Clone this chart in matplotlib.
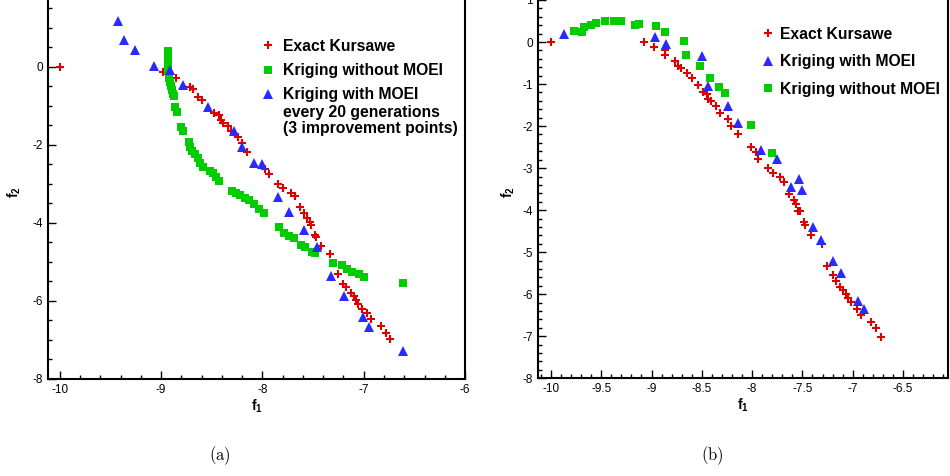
import matplotlib
matplotlib.use("Agg")
import matplotlib.pyplot as plt
from matplotlib.ticker import MultipleLocator, FormatStrFormatter
from matplotlib.lines import Line2D

plt.rcParams['font.family'] = ['Liberation Sans', 'DejaVu Sans']
plt.rcParams['mathtext.fontset'] = 'custom'
plt.rcParams['mathtext.rm'] = 'Liberation Sans'
plt.rcParams['mathtext.bf'] = 'Liberation Sans:bold'
plt.rcParams['axes.unicode_minus'] = False

RED = '#dd0000'
GREEN = '#00cc00'
BLUE = '#2a2aff'

# ---- panel (a) data ----
a_exact_f1 = [-10.0, -8.98, -8.93, -8.85, -8.72, -8.69, -8.64, -8.60, -8.48, -8.43, -8.41,
              -8.39, -8.34, -8.31, -8.24, -8.20, -8.15, -7.97, -7.94, -7.85, -7.80, -7.72,
              -7.68, -7.63, -7.59, -7.56, -7.53, -7.52, -7.48, -7.47, -7.42, -7.33, -7.25,
              -7.20, -7.18, -7.13, -7.10, -7.08, -7.06, -7.02, -6.97, -6.93, -6.83, -6.78, -6.74]
a_exact_f2 = [0.0, -0.13, -0.19, -0.30, -0.53, -0.58, -0.77, -0.85, -1.18, -1.24, -1.37,
              -1.45, -1.52, -1.64, -1.81, -1.96, -2.18, -2.63, -2.75, -3.02, -3.12, -3.23,
              -3.31, -3.61, -3.76, -3.87, -3.99, -4.07, -4.32, -4.36, -4.60, -4.80, -5.32,
              -5.57, -5.66, -5.79, -5.88, -5.98, -6.09, -6.20, -6.32, -6.48, -6.65, -6.82, -6.99]

a_nomoei_f1 = [-8.935, -8.935, -8.935, -8.935, -8.93, -8.93, -8.925, -8.92, -8.91, -8.90,
               -8.89, -8.88, -8.87, -8.86, -8.84, -8.80, -8.78, -8.73, -8.72, -8.70, -8.67,
               -8.64, -8.62, -8.59, -8.52, -8.49, -8.46, -8.43, -8.30, -8.26, -8.22, -8.17,
               -8.13, -8.08, -8.03, -7.98, -7.84, -7.79, -7.74, -7.69, -7.62, -7.58, -7.51,
               -7.48, -7.30, -7.21, -7.17, -7.12, -7.05, -7.00, -6.61]
a_nomoei_f2 = [0.40, 0.30, 0.20, 0.10, 0.0, -0.10, -0.20, -0.30, -0.40, -0.50,
               -0.60, -0.70, -0.75, -1.04, -1.16, -1.54, -1.64, -1.93, -2.05, -2.15, -2.24,
               -2.35, -2.48, -2.56, -2.67, -2.73, -2.82, -2.92, -3.18, -3.25, -3.29, -3.37,
               -3.42, -3.52, -3.66, -3.76, -4.12, -4.27, -4.34, -4.40, -4.57, -4.63, -4.74,
               -4.78, -5.04, -5.08, -5.19, -5.26, -5.32, -5.38, -5.55]

a_moei_f1 = [-9.427, -9.368, -9.256, -9.073, -8.909, -8.787, -8.541, -8.279, -8.204, -8.086,
             -8.007, -7.843, -7.738, -7.594, -7.466, -7.325, -7.191, -7.007, -6.944, -6.613]
a_moei_f2 = [1.18, 0.68, 0.43, 0.03, -0.08, -0.46, -1.04, -1.64, -2.07, -2.48,
             -2.49, -3.33, -3.73, -4.19, -4.63, -5.37, -5.88, -6.41, -6.68, -7.28]

# ---- panel (b) data ----
b_exact_f1 = [-10.0, -9.07, -8.98, -8.87, -8.87, -8.77, -8.74, -8.71, -8.65, -8.60, -8.54,
              -8.49, -8.45, -8.44, -8.41, -8.36, -8.32, -8.24, -8.21, -8.14, -8.01, -7.96,
              -7.94, -7.84, -7.79, -7.72, -7.68, -7.63, -7.58, -7.56, -7.54, -7.52, -7.48,
              -7.47, -7.41, -7.31, -7.26, -7.20, -7.17, -7.13, -7.10, -7.07, -7.05, -7.02,
              -6.96, -6.92, -6.82, -6.77, -6.72]
b_exact_f2 = [0.0, -0.01, -0.13, -0.18, -0.30, -0.46, -0.56, -0.62, -0.74, -0.86, -1.03,
              -1.19, -1.24, -1.35, -1.41, -1.52, -1.68, -1.83, -1.99, -2.19, -2.49, -2.62,
              -2.78, -3.00, -3.12, -3.20, -3.32, -3.62, -3.75, -3.85, -4.01, -4.03, -4.27,
              -4.35, -4.60, -4.81, -5.32, -5.54, -5.68, -5.82, -5.90, -6.00, -6.08, -6.19,
              -6.35, -6.49, -6.67, -6.81, -7.01]

b_moei_f1 = [-9.87, -8.97, -8.86, -8.50, -8.44, -8.24, -8.14, -7.91, -7.75, -7.61,
             -7.53, -7.50, -7.39, -7.32, -7.20, -7.12, -6.95, -6.89]
b_moei_f2 = [0.19, 0.11, -0.04, -0.33, -1.04, -1.53, -1.93, -2.58, -2.78, -3.44,
             -3.25, -3.53, -4.39, -4.72, -5.21, -5.50, -6.15, -6.36]

b_nomoei_f1 = [-9.77, -9.69, -9.67, -9.60, -9.55, -9.46, -9.37, -9.30, -9.16, -9.12,
               -8.96, -8.87, -8.68, -8.66, -8.52, -8.42, -8.33, -8.27, -8.01, -7.80]
b_nomoei_f2 = [0.27, 0.24, 0.36, 0.40, 0.45, 0.49, 0.51, 0.51, 0.41, 0.44,
               0.37, 0.24, 0.03, -0.30, -0.56, -0.86, -1.07, -1.21, -1.98, -2.64]

exact_style = dict(marker='+', linestyle='none', color=RED, markersize=5.5, markeredgewidth=1.5)
nomoei_style = dict(marker='s', linestyle='none', color=GREEN, markersize=6.2, markeredgewidth=0)
moei_style = dict(marker='^', linestyle='none', color=BLUE, markersize=7.2, markeredgewidth=0)

fig = plt.figure(figsize=(9.5, 4.76), dpi=100)
ax1 = fig.add_axes([0.051, 0.2044, 0.4385, 0.7956])
ax2 = fig.add_axes([0.5666, 0.2053, 0.4316, 0.7947])


def style_axes(ax, xmaj, xmin, ymaj, ymin):
    ax.xaxis.set_major_locator(MultipleLocator(xmaj))
    ax.xaxis.set_minor_locator(MultipleLocator(xmin))
    ax.yaxis.set_major_locator(MultipleLocator(ymaj))
    ax.yaxis.set_minor_locator(MultipleLocator(ymin))
    ax.xaxis.set_major_formatter(FormatStrFormatter('%g'))
    ax.yaxis.set_major_formatter(FormatStrFormatter('%g'))
    ax.tick_params(which='both', direction='in', width=1.0, labelsize=8.5)
    ax.tick_params(which='major', length=5.5)
    ax.tick_params(which='minor', length=3)
    ax.tick_params(axis='y', pad=4)
    ax.tick_params(axis='x', pad=3.5)
    ax.spines['top'].set_visible(False)
    for s in ['left', 'bottom', 'right']:
        ax.spines[s].set_linewidth(1.5)


LEG_FONT = {'weight': 'bold', 'size': 11.3}

# panel (a)
ax1.plot(a_exact_f1, a_exact_f2, **exact_style)
ax1.plot(a_nomoei_f1, a_nomoei_f2, **nomoei_style)
ax1.plot(a_moei_f1, a_moei_f2, **moei_style)
ax1.set_xlim(-10.113, -6.0)
ax1.set_ylim(-8, 1.71)
style_axes(ax1, 1, 0.2, 2, 0.5)
ax1.set_xlabel(r'$\mathbf{f_1}$', fontsize=10)
ax1.xaxis.set_label_coords(0.5, -0.049)
ax1.set_ylabel(r'$\mathbf{f_2}$', fontsize=10)
ax1.yaxis.set_label_coords(-0.061, 0.493)

handles_a = [Line2D([], [], **exact_style), Line2D([], [], **nomoei_style), Line2D([], [], **moei_style)]
labels_a = ['Exact Kursawe', 'Kriging without MOEI', 'Kriging with MOEI']
ax1.legend(handles_a, labels_a, loc='upper left', bbox_to_anchor=(0.51, 0.898),
           frameon=False, borderpad=0, borderaxespad=0, handlelength=0.9,
           handletextpad=0.5, labelspacing=0.6, prop=LEG_FONT)
ax1.text(0.563, 0.7042, 'every 20 generations', transform=ax1.transAxes,
         ha='left', va='center', fontsize=11.3, fontweight='bold')
ax1.text(0.563, 0.660, '(3 improvement points)', transform=ax1.transAxes,
         ha='left', va='center', fontsize=11.3, fontweight='bold')

# panel (b)
ax2.plot(b_exact_f1, b_exact_f2, **exact_style)
ax2.plot(b_moei_f1, b_moei_f2, **moei_style)
ax2.plot(b_nomoei_f1, b_nomoei_f2, **nomoei_style)
ax2.set_xlim(-10.126, -6.05)
ax2.set_ylim(-8, 1.0)
style_axes(ax2, 0.5, 0.1, 1, 0.2)
ax2.set_xlabel(r'$\mathbf{f_1}$', fontsize=10)
ax2.xaxis.set_label_coords(0.5, -0.049)
ax2.set_ylabel(r'$\mathbf{f_2}$', fontsize=10)
ax2.yaxis.set_label_coords(-0.0525, 0.493)

handles_b = [Line2D([], [], **exact_style), Line2D([], [], **moei_style), Line2D([], [], **nomoei_style)]
labels_b = ['Exact Kursawe', 'Kriging with MOEI', 'Kriging without MOEI']
ax2.legend(handles_b, labels_b, loc='upper left', bbox_to_anchor=(0.5424, 0.929),
           frameon=False, borderpad=0, borderaxespad=0, handlelength=0.9,
           handletextpad=0.33, labelspacing=0.8, prop=LEG_FONT)

fig.text(220 / 950, 1 - 456 / 476, r'$\mathrm{(a)}$', math_fontfamily='cm',
         ha='center', va='center', fontsize=12)
fig.text(712 / 950, 1 - 456 / 476, r'$\mathrm{(b)}$', math_fontfamily='cm',
         ha='center', va='center', fontsize=12)

fig.savefig('out.png', dpi=100)
